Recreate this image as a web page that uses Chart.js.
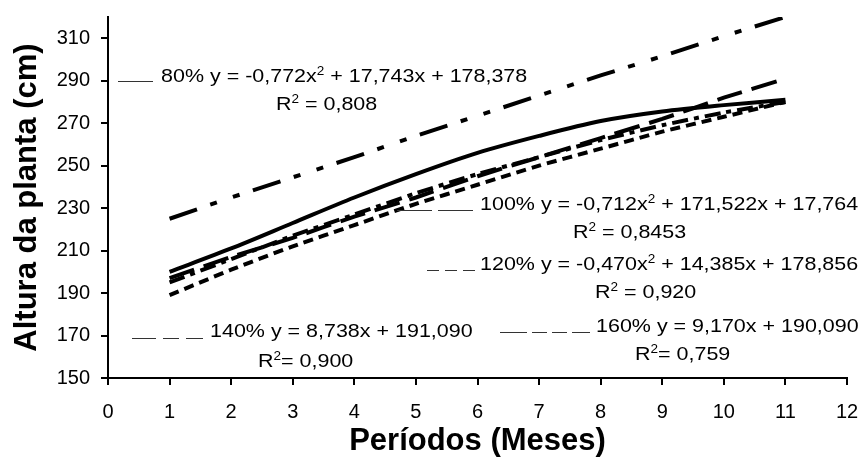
<!DOCTYPE html>
<html>
<head>
<meta charset="utf-8">
<script src="https://cdn.jsdelivr.net/npm/chart.js@4.4.1/dist/chart.umd.min.js"></script>
<style>
html, body { margin: 0; padding: 0; background: #fff; }
</style>
</head>
<body>
<canvas id="chart" width="866" height="457"></canvas>
<script>
// ---------------- Data ----------------

const periods = [1, 2, 3, 4, 5, 6, 7, 8, 9, 10, 11];

const altura80  = [200, 211, 223, 235, 246, 256, 264, 271, 275.5, 278.5, 281];
const altura100 = [225, 235, 244.5, 254, 264, 273.5, 283, 292.5, 301.5, 311, 320];
const altura120 = [195, 206, 217, 227, 237, 246, 254, 262, 269, 275, 280];
const altura140 = [189, 201, 212, 222, 232, 241, 250, 258, 266, 273, 280];
const altura160 = [197, 207, 216, 226, 235, 245, 254, 263, 272, 282, 291];

const xTicks = [0, 1, 2, 3, 4, 5, 6, 7, 8, 9, 10, 11, 12];
const yTicks = [150, 170, 190, 210, 230, 250, 270, 290, 310];

const family = "Arial, 'Liberation Sans', sans-serif";

// ---------------- Series ----------------

const series = [
    { label: "80%",  data: altura80,  dash: [],                       tension: 0.3 },
    { label: "100%", data: altura100, dash: [29, 14, 7, 17, 7, 14],   tension: 0 },
    { label: "120%", data: altura120, dash: [16, 6, 5, 6],            tension: 0.2 },
    { label: "140%", data: altura140, dash: [10, 6],                  tension: 0.2 },
    { label: "160%", data: altura160, dash: [26, 10],                 tension: 0.1 }
];

// ---------------- Equation labels ----------------

const notes = [
    { lead: [118, 153, 81],  leadDash: [],                        x: 161, y: 82,
      parts: [["80% y = -0,772x"], ["2", 1], [" + 17,743x + 178,378"]],
      rx: 276, ry: 110, r2: " = 0,808" },
    { lead: [397, 474, 210], leadDash: [35, 6],                   x: 480, y: 210,
      parts: [["100% y = -0,712x"], ["2", 1], [" + 171,522x + 17,764"]],
      rx: 573, ry: 238, r2: " = 0,8453" },
    { lead: [427, 475, 270], leadDash: [12, 6],                   x: 480, y: 270,
      parts: [["120% y = -0,470x"], ["2", 1], [" + 14,385x + 178,856"]],
      rx: 595, ry: 298, r2: " = 0,920" },
    { lead: [132, 203, 338], leadDash: [24, 7, 16, 7],            x: 210, y: 337,
      parts: [["140% y = 8,738x + 191,090"]],
      rx: 258, ry: 367, r2: "= 0,900" },
    { lead: [500, 590, 332], leadDash: [27, 5, 15, 5, 15, 5, 18], x: 596, y: 332,
      parts: [["160% y = 9,170x + 190,090"]],
      rx: 635, ry: 360, r2: "= 0,759" }
];

function richText(ctx, parts, x, y) {
    ctx.save();
    ctx.translate(x, y);
    ctx.scale(1.13, 1);
    let cx = 0;
    parts.forEach(p => {
        const sup = p[1];
        ctx.font = (sup ? "12px " : "19px ") + family;
        ctx.fillText(p[0], cx, sup ? -7 : 0);
        cx += ctx.measureText(p[0]).width;
    });
    ctx.restore();
}

const notesPlugin = {
    id: "notes",
    afterDraw(chart) {
        const ctx = chart.ctx;
        ctx.save();
        ctx.fillStyle = "#000";
        ctx.textAlign = "left";
        ctx.textBaseline = "alphabetic";
        notes.forEach(n => {
            ctx.strokeStyle = "#333";
            ctx.lineWidth = 1;
            ctx.setLineDash(n.leadDash);
            ctx.beginPath();
            ctx.moveTo(n.lead[0], n.lead[2] + 0.5);
            ctx.lineTo(n.lead[1], n.lead[2] + 0.5);
            ctx.stroke();
            ctx.setLineDash([]);
            richText(ctx, n.parts, n.x, n.y);
            richText(ctx, [["R"], ["2", 1], [n.r2]], n.rx, n.ry);
        });
        ctx.restore();
    }
};

// ---------------- Chart ----------------

new Chart(document.getElementById("chart"), {
    type: "line",
    data: {
        datasets: series.map(s => ({
            label: s.label,
            data: periods.map((p, i) => ({ x: p, y: s.data[i] })),
            borderColor: "#000",
            borderWidth: 4,
            borderDash: s.dash,
            borderCapStyle: "butt",
            tension: s.tension,
            pointRadius: 0,
            fill: false
        }))
    },
    options: {
        responsive: false,
        animation: false,
        layout: { padding: { top: 17, right: 19, left: 0, bottom: 0 } },
        plugins: {
            legend: { display: false },
            tooltip: { enabled: false }
        },
        scales: {
            x: {
                type: "linear",
                min: 0,
                max: 12,
                afterFit: s => { s.height = 79; s.paddingLeft = 0; s.paddingRight = 0; },
                afterBuildTicks: s => { s.ticks = xTicks.map(v => ({ value: v })); },
                ticks: { font: { size: 20, family }, color: "#000", padding: 15, maxRotation: 0, autoSkip: false },
                grid: { drawOnChartArea: false, tickLength: 7, color: "#000", lineWidth: 2 },
                border: { color: "#000", width: 2 },
                title: {
                    display: true,
                    text: "Períodos (Meses)",
                    color: "#000",
                    font: { size: 31, weight: "bold", family, lineHeight: 1 },
                    padding: { top: 0, bottom: 0 }
                }
            },
            y: {
                min: 150,
                max: 320,
                afterFit: s => { s.width = 108; s.paddingTop = 0; s.paddingBottom = 0; },
                afterBuildTicks: s => { s.ticks = yTicks.map(v => ({ value: v })); },
                ticks: { font: { size: 20, family }, color: "#000", padding: 11 },
                grid: { drawOnChartArea: false, tickLength: 7, color: "#000", lineWidth: 2 },
                border: { color: "#000", width: 2 },
                title: {
                    display: true,
                    text: "Altura da planta (cm)",
                    color: "#000",
                    font: { size: 31, weight: "bold", family, lineHeight: 1 },
                    padding: { top: 12, bottom: 0 }
                }
            }
        }
    },
    plugins: [notesPlugin]
});
</script>
</body>
</html>
